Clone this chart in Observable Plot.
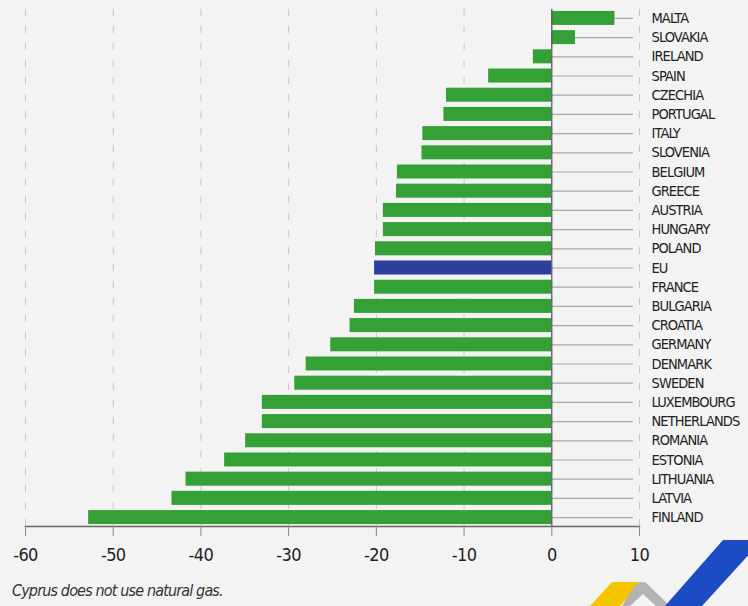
<!DOCTYPE html>
<html>
<head>
<meta charset="utf-8">
<script src="https://cdn.jsdelivr.net/npm/d3@7"></script>
<script src="https://cdn.jsdelivr.net/npm/@observablehq/plot@0.6"></script>
<style>
  html, body { margin: 0; padding: 0; background: #f3f3f3; }
  body { width: 748px; height: 606px; position: relative; overflow: hidden;
         font-family: "Liberation Sans Narrow", "DejaVu Sans Condensed", "Roboto", sans-serif; }
  #chart svg { background: transparent; display: block; }
  #chart .labels text { letter-spacing: -0.9px; }
  #chart .xaxis text { letter-spacing: -0.6px; }
  #caption { position: absolute; left: 12px; top: 581px; font-size: 16px; font-style: italic;
             color: #333; letter-spacing: -0.85px; line-height: 20px; }
  #logo { position: absolute; left: 580px; top: 530px; }
</style>
</head>
<body>
<div id="chart"></div>
<div id="caption">Cyprus does not use natural gas.</div>
<svg id="logo" width="168" height="76" viewBox="580 530 168 76">
  <polygon points="590,606 612,582 643,582 620,606" fill="#f6c500"/>
  <polygon points="636,584 645,582 670,606 656,606 643,594 630,606 622,606" fill="#b3b3b3"/>
  <polygon points="723,540 762,540 702,606 665,606" fill="#1d4bc4"/>
</svg>
<script>
const countries = ["MALTA","SLOVAKIA","IRELAND","SPAIN","CZECHIA","PORTUGAL","ITALY","SLOVENIA","BELGIUM","GREECE","AUSTRIA","HUNGARY","POLAND","EU","FRANCE","BULGARIA","CROATIA","GERMANY","DENMARK","SWEDEN","LUXEMBOURG","NETHERLANDS","ROMANIA","ESTONIA","LITHUANIA","LATVIA","FINLAND"];
const values = [7.2, 2.7, -2.1, -7.2, -12.0, -12.3, -14.7, -14.8, -17.6, -17.7, -19.2, -19.2, -20.1, -20.2, -20.2, -22.5, -23.0, -25.2, -28.0, -29.3, -33.0, -33.0, -34.9, -37.3, -41.7, -43.3, -52.8];
const xTicks = [-60, -50, -40, -30, -20, -10, 0, 10];

const data = countries.map((c, i) => ({country: c, value: values[i], eu: c === "EU"}));
const font = '"Liberation Sans Narrow", "DejaVu Sans Condensed", sans-serif';

const chart = Plot.plot({
  width: 748,
  height: 570,
  marginLeft: 25,
  marginRight: 109,
  marginTop: 9,
  marginBottom: 44,
  style: {background: "transparent", fontFamily: font, color: "#222"},
  x: {domain: [-60, 10]},
  y: {domain: countries, paddingInner: 0.27, paddingOuter: 0.1, round: false, axis: null},
  marks: [
    Plot.gridX(xTicks, {stroke: "#c6c6c6", strokeOpacity: 1, strokeDasharray: "7,10", strokeWidth: 1}),
    Plot.ruleY(data, {y: "country", x1: 0, x2: 10, stroke: "#a8a8a8", strokeWidth: 1.2, insetRight: 6}),
    Plot.barX(data, {y: "country", x: "value", fill: d => d.eu ? "#2b3f9f" : "#35a035"}),
    Plot.ruleX([0], {stroke: "#555", strokeWidth: 1.2}),
    Plot.text(data, {y: "country", x: 10, text: "country", textAnchor: "start", dx: 12,
      fontSize: 14.5, fill: "#222", fontWeight: d => d.eu ? "bold" : "normal", fontFamily: font,
      className: "labels"}),
    Plot.frame({anchor: "bottom", stroke: "#666", strokeWidth: 1.5}),
    Plot.axisX({ticks: xTicks, tickSize: 10, tickPadding: 12, fontSize: 18, stroke: "#888",
      label: null, className: "xaxis",
      tickFormat: d => String(d).replace("−", "-"), fill: "#222", fontFamily: font})
  ]
});
document.getElementById("chart").appendChild(chart);
</script>
</body>
</html>
